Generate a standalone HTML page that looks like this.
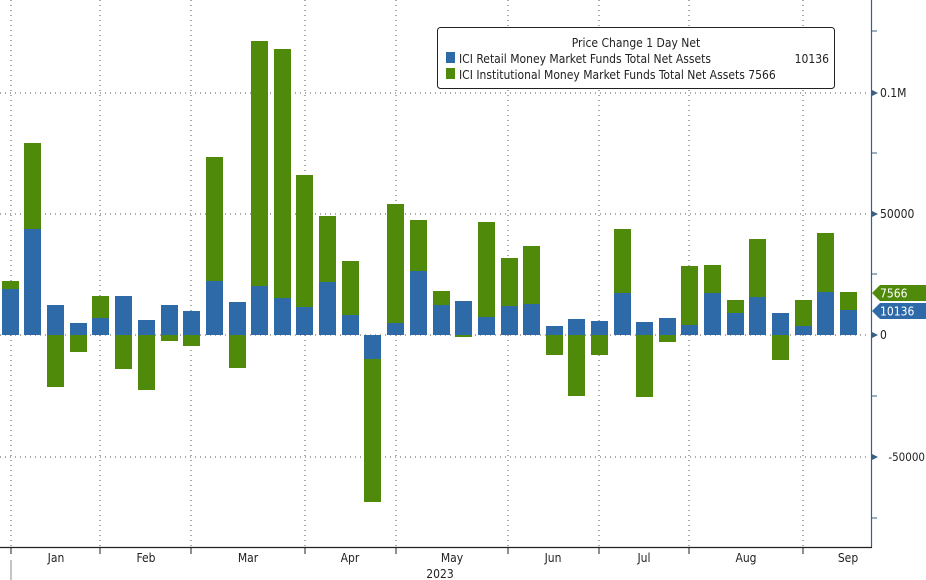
<!DOCTYPE html>
<html><head><meta charset="utf-8"><style>
body{margin:0;background:#fff;}
svg{display:block;font-family:"DejaVu Sans Condensed","Liberation Sans Narrow","Liberation Sans",sans-serif;}
</style></head><body>
<svg width="926" height="580" viewBox="0 0 926 580" xmlns="http://www.w3.org/2000/svg">
<g stroke="#555" stroke-width="1" stroke-dasharray="1,4">
<line x1="0" y1="93" x2="870" y2="93"/>
<line x1="0" y1="214" x2="870" y2="214"/>
<line x1="0" y1="457" x2="870" y2="457"/>
<line x1="0" y1="335" x2="870" y2="335"/>
<line x1="11" y1="0" x2="11" y2="547"/>
<line x1="100" y1="0" x2="100" y2="547"/>
<line x1="191" y1="0" x2="191" y2="547"/>
<line x1="305" y1="0" x2="305" y2="547"/>
<line x1="396" y1="0" x2="396" y2="547"/>
<line x1="508" y1="0" x2="508" y2="547"/>
<line x1="599" y1="0" x2="599" y2="547"/>
<line x1="689" y1="0" x2="689" y2="547"/>
<line x1="803" y1="0" x2="803" y2="547"/>
</g>
<g id="bars"></g>
<line x1="871.5" y1="0" x2="871.5" y2="548" stroke="#3a5f86" stroke-width="1.2"/>
<line x1="0" y1="547.5" x2="872" y2="547.5" stroke="#222" stroke-width="1.2"/>
<g stroke="#3a5f86">
<line x1="872" y1="31" x2="877" y2="31"/><line x1="872" y1="153" x2="877" y2="153"/><line x1="872" y1="274" x2="877" y2="274"/><line x1="872" y1="396" x2="877" y2="396"/><line x1="872" y1="518" x2="877" y2="518"/>
</g>
<g fill="#3a5f86">
<polygon points="872,90 878,93 872,96"/><polygon points="872,211 878,214 872,217"/><polygon points="872,332 878,335 872,338"/><polygon points="872,454 878,457 872,460"/>
</g>
<g stroke="#222"><line x1="11" y1="548" x2="11" y2="554"/><line x1="100" y1="548" x2="100" y2="554"/><line x1="191" y1="548" x2="191" y2="554"/><line x1="305" y1="548" x2="305" y2="554"/><line x1="396" y1="548" x2="396" y2="554"/><line x1="508" y1="548" x2="508" y2="554"/><line x1="599" y1="548" x2="599" y2="554"/><line x1="689" y1="548" x2="689" y2="554"/><line x1="803" y1="548" x2="803" y2="554"/><line x1="11" y1="560" x2="11" y2="580" stroke="#888"/></g>
<g font-size="12" fill="#222">
<text x="880" y="97">0.1M</text>
<text x="880" y="218">50000</text>
<text x="880" y="339">0</text>
<text x="925" y="461" text-anchor="end" font-size="11.5">-50000</text>
</g>
<polygon points="872,293 880,285 926,285 926,301 880,301" fill="#4f8a0b"/>
<text x="880" y="297.5" font-size="12" fill="#fff">7566</text>
<polygon points="872,311 880,303 926,303 926,319 880,319" fill="#2e6aa8"/>
<text x="880" y="315.5" font-size="12" fill="#fff">10136</text>
<g font-size="12" fill="#222" text-anchor="middle">
<text x="56" y="562">Jan</text><text x="146" y="562">Feb</text><text x="248" y="562">Mar</text><text x="350" y="562">Apr</text><text x="452" y="562">May</text><text x="553" y="562">Jun</text><text x="644" y="562">Jul</text><text x="746" y="562">Aug</text><text x="848" y="562">Sep</text>
<text x="440" y="578">2023</text>
</g>
<rect x="437.5" y="27.5" width="397" height="61" rx="3" fill="#fff" stroke="#222"/>
<g font-size="12" fill="#222">
<text x="636" y="47" text-anchor="middle">Price Change 1 Day Net</text>
<rect x="446" y="52" width="9" height="11" fill="#2e6aa8"/>
<text x="459" y="63">ICI Retail Money Market Funds Total Net Assets</text>
<text x="829" y="63" text-anchor="end">10136</text>
<rect x="446" y="68" width="9" height="11" fill="#4f8a0b"/>
<text x="459" y="79">ICI Institutional Money Market Funds Total Net Assets 7566</text>
</g>
</svg>
<script>
var d=[[2,289,335,281,289],[24,229,335,143,229],[47,305,335,335,387],[70,323,335,335,352],[92,318,335,296,318],[115,296,335,335,369],[138,320,335,335,390],[161,305,335,335,341],[183,311,335,335,346],[206,281,335,157,281],[229,302,335,335,368],[251,286,335,41,286],[274,298,335,49,298],[296,307,335,175,307],[319,282,335,216,282],[342,315,335,261,315],[364,335,359,359,502],[387,323,335,204,323],[410,271,335,220,271],[433,305,335,291,305],[455,301,335,335,337],[478,317,335,222,317],[501,306,335,258,306],[523,304,335,246,304],[546,326,335,335,355],[568,319,335,335,396],[591,321,335,335,355],[614,293,335,229,293],[636,322,335,335,397],[659,318,335,335,342],[681,325,335,266,325],[704,293,335,265,293],[727,313,335,300,313],[749,297,335,239,297],[772,313,335,335,360],[795,326,335,300,326],[817,292,335,233,292],[840,310,335,292,310]];
var g=document.getElementById('bars'),s='';
d.forEach(function(b){s+='<rect x="'+b[0]+'" y="'+b[1]+'" width="17" height="'+(b[2]-b[1])+'" fill="#2e6aa8"/>';s+='<rect x="'+b[0]+'" y="'+b[3]+'" width="17" height="'+(b[4]-b[3])+'" fill="#4f8a0b"/>';});
g.innerHTML=s;
</script>
</body></html>
